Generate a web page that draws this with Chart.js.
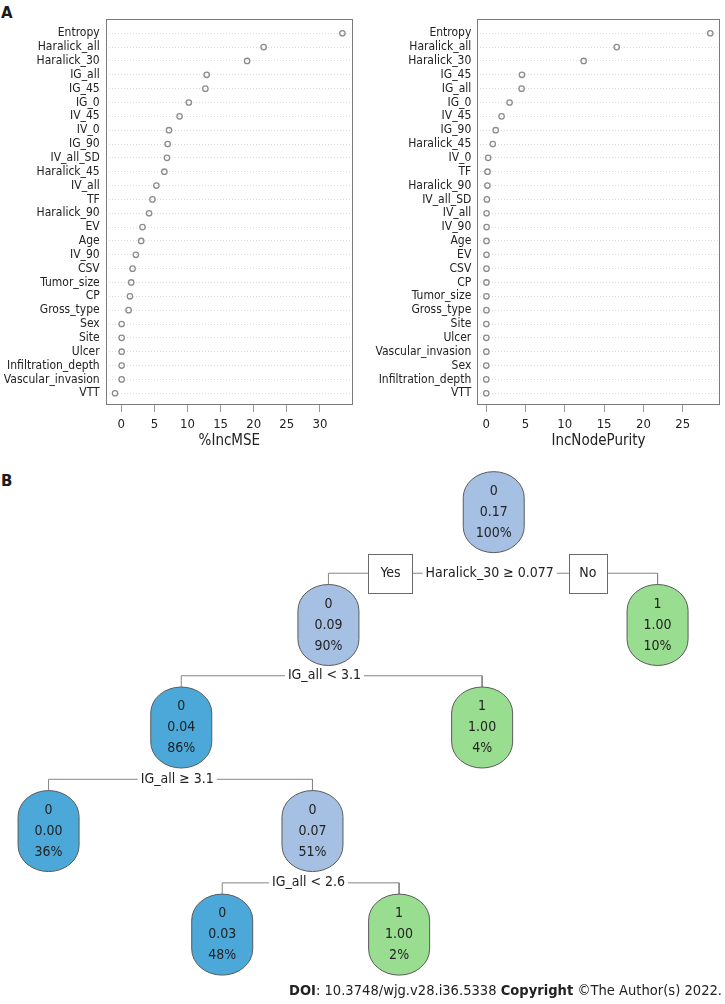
<!DOCTYPE html>
<html>
<head>
<meta charset="utf-8">
<script src="https://cdn.jsdelivr.net/npm/chart.js@4.4.1/dist/chart.umd.min.js"></script>
<style>
  body { margin: 0; background: #fff; width: 725px; height: 1004px; position: relative; overflow: hidden; }
  .panel { position: absolute; }
  .tag { position: absolute; font: bold 15px "DejaVu Sans", sans-serif; color: #1a1a1a; }
</style>
</head>
<body>
<div class="tag" style="left:1px;top:4px">A</div>
<div class="tag" style="left:1px;top:472px">B</div>
<div class="panel" style="left:0;top:0;width:360px;height:450px"><canvas id="mseChart" width="360" height="450"></canvas></div>
<div class="panel" style="left:360px;top:0;width:365px;height:450px"><canvas id="purityChart" width="365" height="450"></canvas></div>
<div class="panel" style="left:0;top:450px;width:725px;height:554px"><canvas id="treeChart" width="725" height="554"></canvas></div>
<script>
// ---------- panel A data ----------
const mseLabels = ["Entropy", "Haralick_all", "Haralick_30", "IG_all", "IG_45", "IG_0", "IV_45", "IV_0", "IG_90",
  "IV_all_SD", "Haralick_45", "IV_all", "TF", "Haralick_90", "EV", "Age", "IV_90", "CSV", "Tumor_size", "CP",
  "Gross_type", "Sex", "Site", "Ulcer", "Infiltration_depth", "Vascular_invasion", "VTT"];
const mseValues = [33.4, 21.5, 19.0, 12.9, 12.7, 10.2, 8.8, 7.2, 7.0, 6.9, 6.5, 5.3, 4.7, 4.2, 3.2, 3.0, 2.2, 1.7,
  1.5, 1.3, 1.1, 0.05, 0.05, 0.05, 0.05, 0.05, -0.95];
const mseTicks = [0, 5, 10, 15, 20, 25, 30];

const purityLabels = ["Entropy", "Haralick_all", "Haralick_30", "IG_45", "IG_all", "IG_0", "IV_45", "IG_90",
  "Haralick_45", "IV_0", "TF", "Haralick_90", "IV_all_SD", "IV_all", "IV_90", "Age", "EV", "CSV", "CP",
  "Tumor_size", "Gross_type", "Site", "Ulcer", "Vascular_invasion", "Sex", "Infiltration_depth", "VTT"];
const purityValues = [28.5, 16.6, 12.4, 4.55, 4.5, 2.97, 1.96, 1.21, 0.84, 0.25, 0.17, 0.16, 0.09, 0.05, 0.05,
  0.04, 0.04, 0.04, 0.03, 0.03, 0.03, 0.02, 0.02, 0.02, 0.01, 0.01, 0.01];
const purityTicks = [0, 5, 10, 15, 20, 25];

// ---------- panel B data (rpart tree) ----------
const nodeIds = [1, 2, 3, 4, 5, 8, 9, 18, 19];
const nodeClass = [0, 0, 1, 0, 1, 0, 0, 0, 1];
const nodeProb = [0.17, 0.09, 1.00, 0.04, 1.00, 0.00, 0.07, 0.03, 1.00];
const nodePct = [100, 90, 10, 86, 4, 36, 51, 48, 2];
const nodeX = [68.1, 45.3, 90.7, 25.0, 66.5, 6.7, 43.1, 30.65, 55.05];   // % of panel width
const nodeLevel = [0, 1.09, 1.09, 2.08, 2.08, 3.08, 3.08, 4.08, 4.08];  // tree depth
const splitNodes = [1, 2, 4, 9];
const splitText = ["Haralick_30 \u2265 0.077", "IG_all < 3.1", "IG_all \u2265 3.1", "IG_all < 2.6"];

Chart.defaults.font.family = '"DejaVu Sans Condensed", "DejaVu Sans", sans-serif';
Chart.defaults.color = "#222";

const framePlugin = {
  id: "frame",
  afterDraw(chart) {
    const { ctx, chartArea } = chart;
    const l = Math.round(chartArea.left), t = Math.round(chartArea.top);
    const r = Math.round(chartArea.right), b = Math.round(chartArea.bottom);
    ctx.save();
    ctx.strokeStyle = "#7a7a7a";
    ctx.lineWidth = 1;
    ctx.strokeRect(l + 0.5, t + 0.5, r - l - 1, b - t - 1);
    ctx.restore();
  }
};

function makeDotChart(canvasId, labels, values, tickValues, title, xMin, xMax, axisWidth, padRight) {
  const n = labels.length;
  return new Chart(document.getElementById(canvasId), {
    type: "scatter",
    data: {
      datasets: [{
        data: values.map((v, i) => ({ x: v, y: n - i })),
        pointRadius: 2.7,
        pointBorderWidth: 1.3,
        pointBorderColor: "#8c8c8c",
        pointBackgroundColor: "rgba(0,0,0,0)"
      }]
    },
    options: {
      responsive: false,
      animation: false,
      devicePixelRatio: 1,
      layout: { padding: { top: 19, right: padRight, bottom: 0, left: 0 } },
      plugins: { legend: { display: false }, tooltip: { enabled: false } },
      scales: {
        x: {
          type: "linear", min: xMin, max: xMax,
          afterBuildTicks: s => { s.ticks = tickValues.map(v => ({ value: v })); },
          afterFit: s => { s.height = 45; },
          grid: { drawOnChartArea: false, drawTicks: true, tickLength: 7, color: "#9a9a9a" },
          border: { display: false },
          ticks: { font: { size: 13 }, padding: 5, maxRotation: 0 },
          title: { display: true, text: title, font: { size: 15 }, padding: { top: 0, bottom: 0 } }
        },
        y: {
          type: "linear", min: 0.15, max: n + 1.03,
          afterBuildTicks: s => { s.ticks = labels.map((_, i) => ({ value: n - i })); },
          afterFit: s => { s.width = axisWidth; },
          grid: { drawTicks: false, color: "#dcdcdc", lineWidth: 1 },
          border: { display: false, dash: [1, 2] },
          ticks: { font: { size: 12 }, padding: 6, autoSkip: false, callback: v => labels[n - v] }
        }
      }
    },
    plugins: [framePlugin]
  });
}

makeDotChart("mseChart", mseLabels, mseValues, mseTicks, "%IncMSE", -2.36, 35.0, 105.7, 7);
makeDotChart("purityChart", purityLabels, purityValues, purityTicks, "IncNodePurity", -1.13, 29.7, 117.3, 1);

// ---------- tree ----------
const palette = { light: "#a6c0e4", dark: "#4ba8d9", green: "#99dd90" };
function nodeFill(i) {
  if (nodeClass[i] === 1) return palette.green;
  return nodeProb[i] >= 0.05 ? palette.light : palette.dark;
}
const at = id => nodeIds.indexOf(id);

const edgeSets = splitNodes.map(p => {
  const l = at(p * 2), r = at(p * 2 + 1);
  const ys = nodeLevel[l] - 0.5;
  return {
    data: [
      { x: nodeX[l], y: nodeLevel[l] }, { x: nodeX[l], y: ys },
      { x: nodeX[r], y: ys }, { x: nodeX[r], y: nodeLevel[r] }
    ],
    showLine: true, borderColor: "#858585", borderWidth: 1, pointRadius: 0, tension: 0, order: 2
  };
});

const nodeSet = {
  data: nodeIds.map((id, i) => ({ x: nodeX[i], y: nodeLevel[i] })),
  pointRadius: 0, order: 0
};

const TREE_FONT = '14px "DejaVu Sans Condensed", "DejaVu Sans", sans-serif';

function pill(ctx, cx, cy, w, h, ry) {
  const rx = w / 2;
  ctx.beginPath();
  ctx.ellipse(cx, cy - h / 2 + ry, rx, ry, 0, Math.PI, 2 * Math.PI);
  ctx.lineTo(cx + rx, cy + h / 2 - ry);
  ctx.ellipse(cx, cy + h / 2 - ry, rx, ry, 0, 0, Math.PI);
  ctx.closePath();
}

function textBox(ctx, text, cx, cy, padX, h, stroke) {
  const w = ctx.measureText(text).width + 2 * padX;
  ctx.fillStyle = "#fff";
  ctx.fillRect(cx - w / 2, cy - h / 2, w, h);
  if (stroke) {
    ctx.strokeStyle = "#6a6a6a";
    ctx.lineWidth = 1;
    ctx.strokeRect(Math.round(cx - w / 2) + 0.5, Math.round(cy - h / 2) + 0.5, Math.round(w), Math.round(h));
  }
  ctx.fillStyle = "#222";
  ctx.fillText(text, cx, cy);
  return w;
}

const treePlugin = {
  id: "treeDraw",
  afterDatasetsDraw(chart) {
    const ctx = chart.ctx;
    const ys = chart.scales.y;
    const nodes = chart.getDatasetMeta(chart.data.datasets.length - 1).data;
    ctx.save();
    ctx.font = TREE_FONT;
    ctx.textAlign = "center";
    ctx.textBaseline = "middle";

    // split labels
    splitNodes.forEach((p, k) => {
      const pi = at(p), li = at(p * 2);
      const x = nodes[pi].x - 4;
      const y = ys.getPixelForValue(nodeLevel[li] - 0.5);
      const lw = textBox(ctx, splitText[k], x, y, 3, 16, false);
      if (k === 0) {
        const yesW = ctx.measureText("Yes").width + 24;
        const noW = ctx.measureText("No").width + 21;
        textBox(ctx, "Yes", x - lw / 2 - 10 - yesW / 2, y, 12, 39, true);
        textBox(ctx, "No", x + lw / 2 + 12 + noW / 2, y, 10.5, 39, true);
      }
    });

    // nodes
    nodes.forEach((pt, i) => {
      pill(ctx, pt.x, pt.y, 61, 81, 26);
      ctx.fillStyle = nodeFill(i);
      ctx.fill();
      ctx.strokeStyle = "#5a5a5a";
      ctx.lineWidth = 1;
      ctx.stroke();
      ctx.fillStyle = "#222";
      ctx.fillText(String(nodeClass[i]), pt.x, pt.y - 21);
      ctx.fillText(nodeProb[i].toFixed(2), pt.x, pt.y);
      ctx.fillText(nodePct[i] + "%", pt.x, pt.y + 21);
    });

    // source line
    const parts = [["DOI", true], [": 10.3748/wjg.v28.i36.5338 ", false], ["Copyright", true], [" \u00a9The Author(s) 2022.", false]];
    const fontFor = b => (b ? "bold " : "") + TREE_FONT;
    let total = 0;
    parts.forEach(([t, b]) => { ctx.font = fontFor(b); total += ctx.measureText(t).width; });
    const targetW = 433, right = chart.width - 3;
    const sx = targetW / total;
    ctx.translate(right - targetW, 541);
    ctx.scale(sx, 1);
    ctx.textAlign = "left";
    let cx = 0;
    parts.forEach(([t, b]) => {
      ctx.font = fontFor(b);
      ctx.fillText(t, cx, 0);
      cx += ctx.measureText(t).width;
    });
    ctx.restore();
  }
};

new Chart(document.getElementById("treeChart"), {
  type: "scatter",
  data: { datasets: [...edgeSets, nodeSet] },
  options: {
    responsive: false,
    animation: false,
    devicePixelRatio: 1,
    layout: { padding: 0 },
    plugins: { legend: { display: false }, tooltip: { enabled: false } },
    scales: {
      x: { type: "linear", min: 0, max: 100, display: false },
      y: { type: "linear", min: -0.6, max: 4.75, reverse: true, display: false }
    }
  },
  plugins: [treePlugin]
});
</script>
</body>
</html>
